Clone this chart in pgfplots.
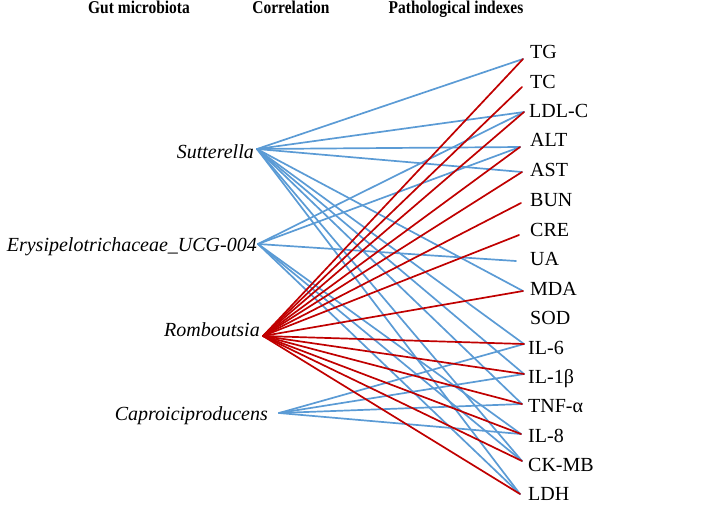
\documentclass[border=0pt]{standalone}
\usepackage{fontspec}
\setmainfont{Liberation Serif}
\usepackage{pgfplots}
\pgfplotsset{compat=1.18}
\definecolor{lblue}{RGB}{91,155,213}
\definecolor{dred}{RGB}{192,0,0}
\begin{document}
\begin{tikzpicture}
\begin{axis}[name=ax,
  scale only axis, width=708pt, height=504pt,
  xmin=0, xmax=708, ymin=0, ymax=504, y dir=reverse,
  hide axis, clip=false,
  every axis plot/.append style={line width=1.7pt, line cap=round},
]
% ---- positive (blue) correlations ----
% Sutterella (257,149)
\addplot[lblue] coordinates {(257,149) (523,59)};
\addplot[lblue] coordinates {(257,149) (524,112)};
\addplot[lblue] coordinates {(257,149) (520,147)};
\addplot[lblue] coordinates {(257,149) (522,172)};
\addplot[lblue] coordinates {(257,149) (523,291)};
\addplot[lblue] coordinates {(257,149) (524,344)};
\addplot[lblue] coordinates {(257,149) (524,374)};
\addplot[lblue] coordinates {(257,149) (522,404)};
\addplot[lblue] coordinates {(257,149) (522,461)};
\addplot[lblue] coordinates {(257,149) (520,494)};
% Erysipelotrichaceae_UCG-004 (258,244)
\addplot[lblue] coordinates {(258,244) (524,112)};
\addplot[lblue] coordinates {(258,244) (520,147)};
\addplot[lblue] coordinates {(258,244) (516,261)};
\addplot[lblue] coordinates {(258,244) (521,434)};
\addplot[lblue] coordinates {(258,244) (522,461)};
\addplot[lblue] coordinates {(258,244) (520,494)};
% Caproiciproducens (279,413)
\addplot[lblue] coordinates {(279,413) (524,344)};
\addplot[lblue] coordinates {(279,413) (524,374)};
\addplot[lblue] coordinates {(279,413) (522,404)};
\addplot[lblue] coordinates {(279,413) (521,434)};
% ---- negative (red) correlations: Romboutsia (263,336) ----
\addplot[dred] coordinates {(263,336) (523,59)};
\addplot[dred] coordinates {(263,336) (522,87)};
\addplot[dred] coordinates {(263,336) (524,112)};
\addplot[dred] coordinates {(263,336) (520,147)};
\addplot[dred] coordinates {(263,336) (522,172)};
\addplot[dred] coordinates {(263,336) (521,203)};
\addplot[dred] coordinates {(263,336) (519,235)};
\addplot[dred] coordinates {(263,336) (523,291)};
\addplot[dred] coordinates {(263,336) (524,344)};
\addplot[dred] coordinates {(263,336) (524,374)};
\addplot[dred] coordinates {(263,336) (522,404)};
\addplot[dred] coordinates {(263,336) (521,434)};
\addplot[dred] coordinates {(263,336) (522,461)};
\addplot[dred] coordinates {(263,336) (520,494)};

% ---- headers ----
\begin{scope}[every node/.style={font=\fontsize{18}{20}\selectfont\bfseries, xscale=0.86, inner sep=0pt, anchor=north}]
\node at (axis cs:139,1) {Gut microbiota};
\node at (axis cs:291,1) {Correlation};
\node at (axis cs:456,1) {Pathological indexes};
\end{scope}
% ---- left labels ----
\begin{scope}[every node/.style={font=\fontsize{20}{22}\selectfont\itshape, inner sep=0pt, anchor=east, text height=13.2pt, text depth=0pt}]
\node at (axis cs:254,152) {Sutterella};
\node at (axis cs:257,245) {Erysipelotrichaceae\_UCG-004};
\node at (axis cs:260,330) {Romboutsia};
\node at (axis cs:268,414) {Caproiciproducens};
\end{scope}
% ---- right labels ----
\begin{scope}[every node/.style={font=\fontsize{20}{22}\selectfont, inner sep=0pt, anchor=west, text height=13.2pt, text depth=0pt}]
\node at (axis cs:530,52) {TG};
\node at (axis cs:530,82) {TC};
\node at (axis cs:529,111) {LDL-C};
\node at (axis cs:530,140) {ALT};
\node at (axis cs:530,170) {AST};
\node at (axis cs:530,200) {BUN};
\node at (axis cs:530,230) {CRE};
\node at (axis cs:530,259) {UA};
\node at (axis cs:530,289) {MDA};
\node at (axis cs:530,318) {SOD};
\node at (axis cs:528,348) {IL-6};
\node at (axis cs:528,377) {IL-1β};
\node at (axis cs:528,406) {TNF-α};
\node at (axis cs:528,436) {IL-8};
\node at (axis cs:528,465) {CK-MB};
\node at (axis cs:528,494) {LDH};
\end{scope}
\end{axis}
\pgfresetboundingbox
\path[use as bounding box] (ax.south west) rectangle (ax.north east);
\end{tikzpicture}
\end{document}
